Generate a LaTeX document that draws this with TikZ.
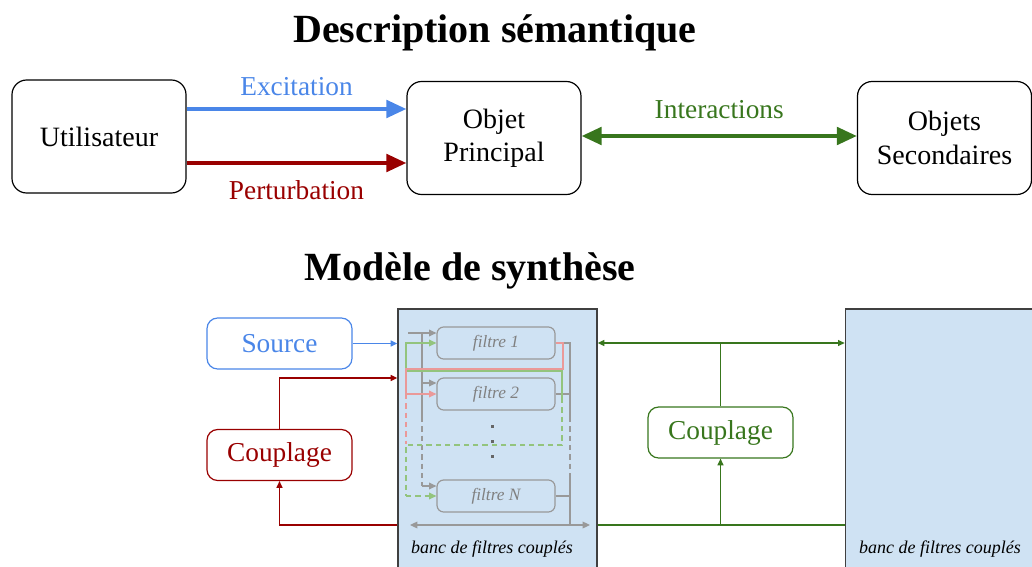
\documentclass[tikz,border=0pt]{standalone}
\usepackage{fontspec}
\setmainfont{Liberation Serif}
\usetikzlibrary{arrows.meta}
\definecolor{exblue}{HTML}{4A86E8}
\definecolor{pertred}{HTML}{990000}
\definecolor{intgreen}{HTML}{38761D}
\definecolor{bankfill}{HTML}{CFE2F3}
\definecolor{filtgray}{HTML}{999999}
\definecolor{lpink}{HTML}{EA9999}
\definecolor{lgreen}{HTML}{93C47D}

\begin{document}
\begin{tikzpicture}[x=0.75pt,y=-0.75pt,
	bigbox/.style={draw,line width=0.9pt,rounded corners=11pt,minimum width=130.5pt,minimum height=84.75pt,align=center,font=\fontsize{21}{25}\selectfont},
	smallbox/.style={draw,line width=0.9pt,rounded corners=8pt,minimum width=108.75pt,minimum height=38.25pt,font=\fontsize{20.5}{24}\selectfont},
	filtbox/.style={draw=filtgray,line width=0.9pt,rounded corners=5pt,minimum width=88.5pt,minimum height=24pt,text=gray,font=\fontsize{13}{15}\selectfont\itshape},
	bank/.style={draw=black!75,line width=1pt,fill=bankfill,minimum width=149.25pt,minimum height=203.25pt},
	banklabel/.style={font=\fontsize{13.5}{16}\selectfont\itshape},
	title/.style={font=\fontsize{30}{35}\selectfont\bfseries},
	biglabel/.style={font=\fontsize{20.5}{24}\selectfont},
	bigarrow/.style={line width=3pt,-{Triangle[length=15pt,width=13pt]}},
	thinarrow/.style={line width=0.9pt,-{Triangle[length=5pt,width=4.5pt]}},
	inner/.style={line width=0.9pt},
	innerarrow/.style={line width=0.9pt,-{Triangle[length=5.5pt,width=5pt]}},
	dash4/.style={dash pattern=on 4pt off 3pt}]
	\useasboundingbox (0,0) rectangle (1032,567);
	\clip (0,0) rectangle (1032,567);
	% semantic description
	\node[title] (tdesc) at (495,33) {Description sémantique};
	\node[bigbox] (util) at (99,136.5) {Utilisateur};
	\node[bigbox] (obj) at (494,138) {Objet\\Principal};
	\node[bigbox] (objsec) at (944.5,138) {Objets\\Secondaires};
	\draw[bigarrow,exblue] (util.east |- 0,109) -- (obj.west |- 0,109) node[biglabel,midway,above=5pt]{Excitation};
	\draw[bigarrow,pertred] (util.east |- 0,163) -- (obj.west |- 0,163) node[biglabel,midway,below=8pt]{Perturbation};
	\draw[bigarrow,intgreen,{Triangle[length=15pt,width=13pt]}-{Triangle[length=15pt,width=13pt]}] (obj.east |- 0,136) -- (objsec.west |- 0,136) node[biglabel,midway,above=8pt]{Interactions};
	% synthesis model
	\node[title] (tsynth) at (470,271) {Modèle de synthèse};
	\node[bank] (bankL) at (497.5,444.5) {};
	\node[bank,minimum width=160pt] (bankR) at (952,444.5) {};
	\node[banklabel] (lblL) at (492,549) {banc de filtres couplés};
	\node[banklabel] (lblR) at (940,549) {banc de filtres couplés};
	\node[smallbox,draw=exblue,text=exblue] (src) at (279.5,343.5) {Source};
	\node[smallbox,draw=pertred,text=pertred] (cplred) at (279.5,455) {Couplage};
	\node[smallbox,draw=intgreen,text=intgreen] (cplgreen) at (720.5,432.5) {Couplage};
	\node[filtbox] (f1) at (496,343) {filtre 1};
	\node[filtbox] (f2) at (496,394) {filtre 2};
	\node[filtbox] (fN) at (496,496) {filtre N};
	\foreach \y in {426,441,456}
		\fill[black!60] (490.5,\y-1.5) rectangle (493.5,\y+1.5);
	% inputs
	\draw[thinarrow,exblue] (src.east) -- (src.east -| bankL.west);
	\draw[thinarrow,pertred] (cplred.north) |- (bankL.west |- 0,378);
	\draw[thinarrow,pertred] (bankL.west |- 0,525) -| (cplred.south);
	% inter-bank coupling
	\draw[thinarrow,intgreen,{Triangle[length=5pt,width=4.5pt]}-{Triangle[length=5pt,width=4.5pt]}] (bankL.east |- 0,343) -- (bankR.west |- 0,343);
	\draw[inner,intgreen] (cplgreen.north) -- (cplgreen.north |- 0,343);
	\draw[inner,intgreen] (bankL.east |- 0,525) -- (bankR.west |- 0,525);
	\draw[thinarrow,intgreen] (cplgreen.south |- 0,525) -- (cplgreen.south);
	% inside the bank: gray
	\draw[innerarrow,filtgray] (408,333) -- (f1.west |- 0,333);
	\draw[inner,filtgray] (422,333) -- (422,417);
	\draw[inner,filtgray,dash4] (422,417) -- (422,486);
	\draw[innerarrow,filtgray] (422,383) -- (f2.west |- 0,383);
	\draw[innerarrow,filtgray] (422,486) -- (fN.west |- 0,486);
	\draw[inner,filtgray] (f1.east) -- (570,343) -- (570,417);
	\draw[inner,filtgray,dash4] (570,417) -- (570,473);
	\draw[inner,filtgray] (570,473) -- (570,525);
	\draw[inner,filtgray] (f2.east) -- (570,394);
	\draw[inner,filtgray] (fN.east) -- (570,496);
	\draw[innerarrow,filtgray,{Triangle[length=5.5pt,width=5pt]}-{Triangle[length=5.5pt,width=5pt]}] (410,525) -- (590,525);
	% inside the bank: green
	\draw[innerarrow,lgreen] (406,371) |- (f1.west);
	\draw[inner,lgreen] (406,371) -- (562,371) -- (562,398);
	\draw[inner,lgreen,dash4] (562,398) -- (562,445) -- (406,445) -- (406,496);
	\draw[innerarrow,lgreen,dash4] (406,496) -- (fN.west);
	% inside the bank: pink
	\draw[inner,lpink] (f1.east) -- (563,343) -- (563,369) -- (406,369) -- (406,394);
	\draw[innerarrow,lpink] (406,394) -- (f2.west);
	\draw[inner,lpink,dash4] (406,394) -- (406,444);
\end{tikzpicture}
\end{document}
